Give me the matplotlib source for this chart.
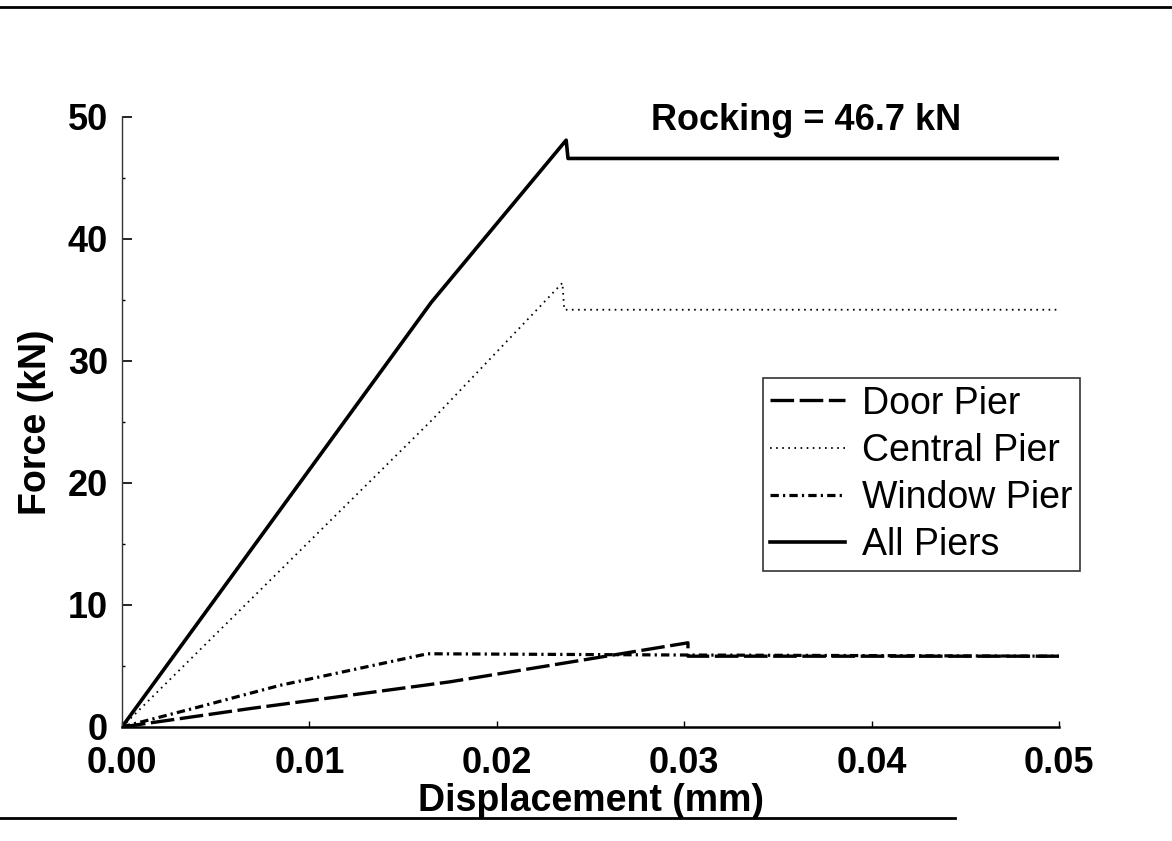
import matplotlib
matplotlib.use("Agg")
import matplotlib.pyplot as plt
from matplotlib.lines import Line2D
import numpy as np

# values
door_disp = [0.0, 0.0068, 0.0175, 0.0302, 0.0302, 0.05]
door_force = [0.0, 1.5, 3.7, 6.9, 5.8, 5.8]

central_disp = [0.0, 0.0165, 0.0235, 0.0236, 0.05]
central_force = [0.0, 25.1, 36.4, 34.2, 34.2]

window_disp = [0.0, 0.004, 0.0084, 0.0163, 0.0295, 0.05]
window_force = [0.0, 1.6, 3.4, 6.0, 5.9, 5.8]

all_disp = [0.0, 0.0165, 0.0237, 0.0238, 0.05]
all_force = [0.0, 34.8, 48.1, 46.6, 46.6]

labels = ["Door Pier", "Central Pier", "Window Pier", "All Piers"]
x_ticks = [0.0, 0.01, 0.02, 0.03, 0.04, 0.05]
y_ticks = [0, 10, 20, 30, 40, 50]
rocking_text = "Rocking = 46.7 kN"

plt.rcParams["font.family"] = ["Liberation Sans", "DejaVu Sans"]
plt.rcParams["lines.scale_dashes"] = False

fig = plt.figure(figsize=(11.72, 8.41), dpi=100)
ax = fig.add_axes([0.1041, 0.1356, 0.7995, 0.7253])

ax.plot(door_disp, door_force, color="black", lw=2.4, dashes=(17, 4), label=labels[0])
ax.plot(central_disp, central_force, color="black", lw=1.3, dashes=(1.2, 3.2), label=labels[1])
ax.plot(window_disp, window_force, color="black", lw=2.3, dashes=(6, 3, 1.6, 3), label=labels[2])
ax.plot(all_disp, all_force, color="black", lw=2.6, label=labels[3])

ax.set_xlim(0, 0.05)
ax.set_ylim(0, 50)
ax.set_xticks(x_ticks)
ax.set_xticklabels([f"{v:.2f}" for v in x_ticks])
ax.set_yticks(y_ticks)
ax.set_yticks(np.arange(5, 50, 10), minor=True)

for side in ("top", "right"):
    ax.spines[side].set_visible(False)
ax.spines["bottom"].set_linewidth(1.8)
ax.spines["left"].set_linewidth(1.0)
ax.spines["left"].set_color("#333333")

ax.tick_params(axis="y", direction="in", length=7, width=1.2, pad=10, labelsize=26)
ax.tick_params(axis="y", which="minor", direction="in", length=2, width=1)
ax.tick_params(axis="x", direction="in", length=4, width=1, pad=14, labelsize=26)
for lbl in ax.get_xticklabels() + ax.get_yticklabels():
    lbl.set_fontweight("bold")

ax.set_xlabel("Displacement (mm)", fontsize=27, fontweight="bold", labelpad=1)
ax.set_ylabel("Force (kN)", fontsize=27, fontweight="bold", labelpad=10)

ax.text(0.0365, 49.7, rocking_text, ha="center", va="center", fontsize=26, fontweight="bold")

leg = ax.legend(loc="upper left", bbox_to_anchor=(0.651, 0.5505), bbox_transform=fig.transFigure,
                fontsize=27, frameon=True, fancybox=False, borderaxespad=0, borderpad=0.2,
                handlelength=2.0, handletextpad=0.45, labelspacing=0.3)
leg.get_frame().set_edgecolor("black")
leg.get_frame().set_linewidth(1.2)

# page rules from the scanned document
fig.add_artist(Line2D([0, 1], [0.9917, 0.9917], transform=fig.transFigure, color="black", lw=2))
fig.add_artist(Line2D([0, 0.815], [0.0273, 0.0273], transform=fig.transFigure, color="black", lw=2))

fig.savefig("out.png", dpi=100)
